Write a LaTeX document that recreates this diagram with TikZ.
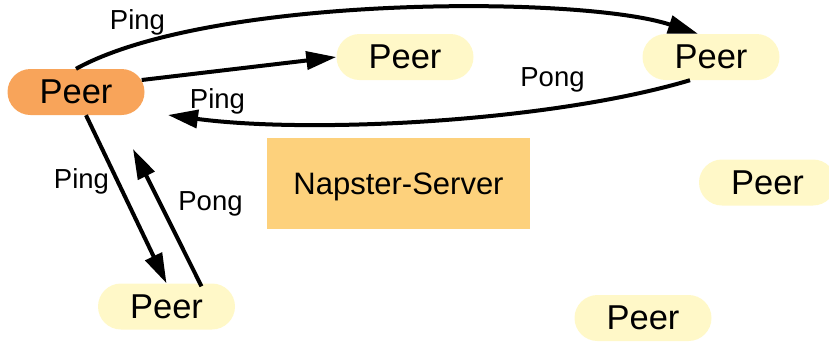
\documentclass[tikz,border=0pt]{standalone}
\usepackage{fontspec}
\setmainfont{Liberation Sans}
\usetikzlibrary{arrows.meta}
\definecolor{peerorange}{RGB}{248,164,90}
\definecolor{peeryellow}{RGB}{255,248,200}
\definecolor{servercol}{RGB}{253,209,124}
\tikzset{
  peerbox/.style={fill=peeryellow, draw=none, rounded corners=23pt, minimum width=137pt, minimum height=46pt, inner sep=0pt, font=\fontsize{34.5}{40}\selectfont, text depth=0pt},
  mainpeer/.style={peerbox, fill=peerorange},
  serverbox/.style={fill=servercol, draw=none, minimum width=263pt, minimum height=91pt, inner sep=0pt, font=\fontsize{31}{36}\selectfont, text depth=0pt},
  msg/.style={font=\fontsize{27.5}{32}\selectfont, anchor=base, inner sep=0pt},
  conn/.style={line width=4pt, -{Triangle[length=30pt,width=18pt]}}
}
\begin{document}
\begin{tikzpicture}[x=1pt,y=-1pt]
\useasboundingbox (0,0) rectangle (829,341);
\clip (0,0) rectangle (829,341);
% nodes
\node[mainpeer] (p0) at (76,92) {Peer};
\node[peerbox] (p1) at (405,57) {Peer};
\node[peerbox] (p2) at (711,57) {Peer};
\node[peerbox] (p3) at (166.5,306.5) {Peer};
\node[peerbox] (p4) at (767.5,182.5) {Peer};
\node[peerbox] (p5) at (643,318) {Peer};
\node[serverbox] (srv) at (398.5,183.5) {Napster-Server};
% free ends
\coordinate (pongend1) at (168,115);
\coordinate (pongend2) at (133,149);
% connectors
\draw[conn] (p0.north) .. controls (210,-5) and (580,-5) .. ([xshift=-13pt]p2.north);
\draw[conn] ([yshift=12pt,xshift=-3pt]p0.east) -- (p1.west);
\draw[conn] ([xshift=-21pt]p2.south) .. controls (550,122) and (310,134) .. (pongend1);
\draw[conn] ([xshift=10pt]p0.south) -- (p3.north);
\draw[conn] ([xshift=35pt,yshift=-3pt]p3.north) -- (pongend2);
% labels
\node[msg] (l1) at (137.5,29) {Ping};
\node[msg] (l2) at (217.5,108) {Ping};
\node[msg] (l3) at (552.5,86) {Pong};
\node[msg] (l4) at (81.5,188) {Ping};
\node[msg] (l5) at (210.5,210) {Pong};
\end{tikzpicture}
\end{document}
